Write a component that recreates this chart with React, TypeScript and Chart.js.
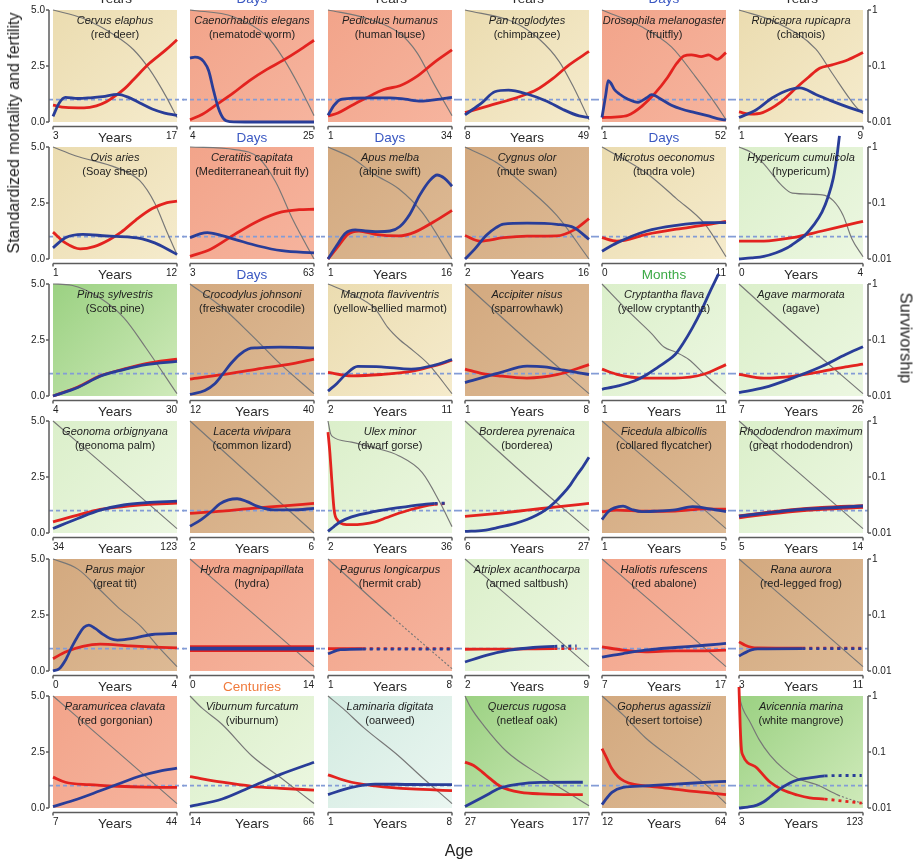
import React, { useEffect, useRef } from 'react';
import { Chart, registerables } from 'chart.js';

Chart.register(...registerables);

const FONT = '"Liberation Sans", Arial, Helvetica, sans-serif';
Chart.defaults.font.family = FONT;

// ---- species (row-major, 6 per row) ----
const speciesNames = [
  'Cervus elaphus', 'Caenorhabditis elegans', 'Pediculus humanus', 'Pan troglodytes', 'Drosophila melanogaster', 'Rupicapra rupicapra',
  'Ovis aries', 'Ceratitis capitata', 'Apus melba', 'Cygnus olor', 'Microtus oeconomus', 'Hypericum cumulicola',
  'Pinus sylvestris', 'Crocodylus johnsoni', 'Marmota flaviventris', 'Accipiter nisus', 'Cryptantha flava', 'Agave marmorata',
  'Geonoma orbignyana', 'Lacerta vivipara', 'Ulex minor', 'Borderea pyrenaica', 'Ficedula albicollis', 'Rhododendron maximum',
  'Parus major', 'Hydra magnipapillata', 'Pagurus longicarpus', 'Atriplex acanthocarpa', 'Haliotis rufescens', 'Rana aurora',
  'Paramuricea clavata', 'Viburnum furcatum', 'Laminaria digitata', 'Quercus rugosa', 'Gopherus agassizii', 'Avicennia marina',
];

const commonNames = [
  'red deer', 'nematode worm', 'human louse', 'chimpanzee', 'fruitfly', 'chamois',
  'Soay sheep', 'Mediterranean fruit fly', 'alpine swift', 'mute swan', 'tundra vole', 'hypericum',
  'Scots pine', 'freshwater crocodile', 'yellow-bellied marmot', 'sparrowhawk', 'yellow cryptantha', 'agave',
  'geonoma palm', 'common lizard', 'dwarf gorse', 'borderea', 'collared flycatcher', 'great rhododendron',
  'great tit', 'hydra', 'hermit crab', 'armed saltbush', 'red abalone', 'red-legged frog',
  'red gorgonian', 'viburnum', 'oarweed', 'netleaf oak', 'desert tortoise', 'white mangrove',
];

const panelGroups = [
  'mammal', 'invertebrate', 'invertebrate', 'mammal', 'invertebrate', 'mammal',
  'mammal', 'invertebrate', 'bird', 'bird', 'mammal', 'plant',
  'tree', 'bird', 'mammal', 'bird', 'plant', 'plant',
  'plant', 'bird', 'plant', 'plant', 'bird', 'plant',
  'bird', 'invertebrate', 'invertebrate', 'plant', 'invertebrate', 'bird',
  'invertebrate', 'plant', 'alga', 'tree', 'bird', 'tree',
];

// ---- age axes ----
const ageUnits = [
  'Years', 'Days', 'Days', 'Years', 'Days', 'Years',
  'Years', 'Days', 'Years', 'Years', 'Months', 'Years',
  'Years', 'Years', 'Years', 'Years', 'Years', 'Years',
  'Years', 'Years', 'Years', 'Years', 'Years', 'Years',
  'Years', 'Centuries', 'Years', 'Years', 'Years', 'Years',
  'Years', 'Years', 'Years', 'Years', 'Years', 'Years',
];
const ageStart = [3, 4, 1, 8, 1, 1, 1, 3, 1, 2, 0, 0, 4, 12, 2, 1, 1, 7, 34, 2, 2, 6, 1, 5, 0, 0, 1, 2, 7, 3, 7, 14, 1, 27, 12, 3];
const ageEnd = [17, 25, 34, 49, 52, 9, 12, 63, 16, 16, 11, 4, 30, 40, 11, 8, 11, 26, 123, 6, 36, 27, 5, 14, 4, 14, 8, 9, 17, 11, 44, 66, 8, 177, 64, 123];
// unit labels of the row above, only their lower edge shows at the top
const topUnits = ['Years', 'Days', 'Years', 'Years', 'Days', 'Years'];

// position along each age axis (% of range) where the curves turn dotted
const dottedFrom = [
  null, null, null, null, null, null,
  null, null, null, null, null, null,
  null, null, null, null, null, null,
  null, null, 86, null, null, null,
  null, null, 28, 72, null, 51,
  null, null, null, null, null, 69,
];
const survDottedFrom = [
  null, null, null, null, null, null,
  null, null, null, null, null, null,
  null, null, null, null, null, null,
  null, null, null, null, null, null,
  null, null, 48, 72, null, 55,
  null, null, null, null, null, 65,
];

// ---- series: [age % of range, value] ----
const mortality = [
  [[0, 0.75], [10, 0.65], [25, 0.63], [35, 0.72], [43, 0.9], [51, 1.2], [58, 1.5], [65, 1.9], [78, 2.63], [91, 3.22], [100, 3.67]],
  [[0, 0.1], [10, 0.35], [22, 0.8], [35, 1.3], [48, 1.85], [62, 2.35], [75, 2.75], [88, 3.2], [100, 3.65]],
  [[0, 0.27], [8, 0.4], [18, 0.7], [31, 1.08], [45, 1.45], [58, 1.62], [72, 2.05], [85, 2.63], [100, 3.22]],
  [[0, 0.42], [19, 0.72], [45, 1.15], [58, 1.45], [71, 1.95], [84, 2.55], [100, 3.15]],
  [[0, 0.2], [10, 0.22], [21, 0.3], [32, 0.7], [43, 1.3], [53, 2.0], [60, 2.6], [66, 2.95], [72, 3.0], [80, 2.92], [86, 3.0], [93, 2.8], [100, 3.1]],
  [[0, 0.45], [9, 0.35], [19, 0.42], [33, 0.86], [46, 1.52], [56, 2.0], [65, 2.4], [75, 2.55], [88, 2.78], [100, 3.1]],
  [[0, 1.2], [10, 0.72], [22, 0.45], [33, 0.55], [45, 0.85], [55, 1.2], [67, 1.75], [80, 2.25], [92, 2.52], [100, 2.58]],
  [[0, 0.12], [17, 0.45], [36, 1.1], [55, 1.7], [74, 2.1], [88, 2.2], [100, 2.22]],
  [[0, 0], [8, 0.55], [16, 1.1], [25, 1.25], [38, 1.1], [57, 1.03], [70, 1.2], [85, 1.65], [100, 2.17]],
  [[0, 1.05], [12, 0.8], [31, 0.95], [50, 1.02], [74, 1.03], [88, 1.3], [100, 1.8]],
  [[0, 0.95], [12, 0.8], [36, 1.1], [60, 1.33], [83, 1.52], [100, 1.68]],
  [[0, 0.8], [20, 0.8], [43, 0.95], [67, 1.25], [86, 1.5], [100, 1.68]],
  [[0, 0], [20, 0.4], [38, 0.9], [57, 1.2], [75, 1.45], [100, 1.65]],
  [[0, 0.75], [26, 0.95], [54, 1.2], [83, 1.45], [100, 1.65]],
  [[0, 1.05], [19, 0.9], [43, 0.96], [67, 1.1], [86, 1.35], [100, 1.6]],
  [[0, 1.2], [14, 1.0], [27, 0.9], [50, 0.8], [74, 0.95], [100, 1.4]],
  [[0, 1.2], [12, 0.97], [35, 0.8], [59, 0.8], [82, 0.97], [100, 1.4]],
  [[0, 0.97], [20, 0.8], [43, 0.88], [67, 1.1], [86, 1.3], [100, 1.42]],
  [[0, 0.5], [20, 0.8], [38, 1.05], [57, 1.18], [75, 1.27], [100, 1.33]],
  [[0, 0.88], [26, 0.98], [50, 1.1], [73, 1.2], [100, 1.32]],
  [[0, 4.5], [1.5, 3.6], [3, 2.4], [5, 1.0], [8, 0.55], [12, 0.4], [19, 0.37], [28, 0.4], [38, 0.5], [47, 0.68], [57, 0.88], [67, 1.05], [76, 1.18], [86, 1.28], [97, 1.32]],
  [[0, 0.74], [27, 0.88], [50, 1.02], [74, 1.17], [100, 1.32]],
  [[0, 0.95], [12, 1.02], [35, 0.97], [59, 0.98], [83, 1.08], [100, 1.06]],
  [[0, 0.72], [20, 0.86], [43, 1.0], [67, 1.1], [100, 1.18]],
  [[0, 0.55], [10, 0.85], [24, 1.1], [38, 1.2], [62, 1.12], [100, 1.03]],
  [[0, 1.0], [100, 1.0]],
  [[0, 1.0], [14, 1.0], [28, 1.0], [100, 1.0]],
  [[0, 0.97], [36, 0.98], [72, 1.0], [90, 1.0]],
  [[0, 1.08], [17, 0.93], [35, 0.86], [59, 0.9], [83, 0.9], [100, 0.93]],
  [[0, 1.3], [5, 1.15], [10, 1.06], [15, 1.03], [51, 1.02], [100, 1.02]],
  [[0, 1.38], [10, 1.15], [29, 1.04], [52, 0.97], [75, 0.93], [100, 0.92]],
  [[0, 1.4], [26, 1.15], [50, 0.97], [73, 0.88], [100, 0.8]],
  [[0, 1.48], [19, 1.15], [38, 0.99], [67, 0.85], [100, 0.78]],
  [[0, 2.05], [7, 1.9], [14, 1.6], [20, 1.32], [28, 0.98], [35, 0.82], [45, 0.7], [61, 0.63], [80, 0.6], [95, 0.6]],
  [[0, 2.65], [4, 2.2], [8, 1.75], [13, 1.4], [18, 1.2], [26, 1.05], [45, 0.93], [68, 0.78], [83, 0.7], [100, 0.6]],
  [[0, 5.4], [1, 3.6], [2, 2.6], [3, 2.37], [14.5, 1.79], [25, 1.16], [35.5, 0.8], [47, 0.58], [57, 0.45], [69, 0.4], [84, 0.31], [99, 0.22]],
];

const fertility = [
  [[0, 0.25], [5, 0.85], [10, 1.1], [20, 1.05], [30, 1.08], [40, 1.13], [52, 1.23], [60, 1.12], [70, 0.85], [80, 0.58], [90, 0.4], [100, 0.3]],
  [[0, 2.85], [4, 2.9], [8, 2.85], [11, 2.7], [15, 2.3], [19, 1.4], [23, 0.6], [27, 0.15], [32, 0.02], [50, 0], [75, 0], [100, 0]],
  [[0, 0.3], [5, 0.75], [10, 1.0], [20, 1.06], [35, 1.08], [50, 1.08], [62, 1.02], [75, 0.93], [87, 1.0], [100, 1.1]],
  [[0, 0.32], [14, 0.88], [24, 1.35], [35, 1.42], [50, 1.25], [66, 0.93], [79, 0.56], [92, 0.27], [100, 0.2]],
  [[0, 0.2], [3, 1.2], [5, 1.85], [7, 1.75], [10, 1.45], [14, 1.25], [21, 1.02], [29, 0.88], [36, 1.08], [40, 1.22], [48, 1.0], [56, 0.75], [64, 0.58], [75, 0.42], [85, 0.28], [96, 0.12], [100, 0.09]],
  [[0, 0.2], [14, 0.55], [27, 1.08], [41, 1.45], [49, 1.52], [62, 1.23], [75, 0.93], [89, 0.64], [100, 0.44]],
  [[0, 0.5], [10, 0.95], [24, 1.1], [43, 1.03], [62, 0.98], [72, 0.9], [82, 0.72], [92, 0.45], [100, 0.2]],
  [[0, 0.95], [8, 1.12], [14, 1.18], [25, 1.05], [36, 0.88], [55, 0.58], [74, 0.37], [100, 0.27]],
  [[0, 0], [7, 0.6], [14, 1.15], [22, 1.3], [30, 1.25], [40, 1.22], [50, 1.25], [58, 1.45], [66, 2.0], [74, 2.85], [82, 3.5], [88, 3.75], [94, 3.6], [100, 3.25]],
  [[0, 0], [8, 0.45], [17, 1.05], [25, 1.4], [31, 1.56], [50, 1.6], [74, 1.55], [88, 1.4], [100, 0.88]],
  [[0, 0.35], [12, 0.72], [36, 1.25], [60, 1.5], [83, 1.62], [100, 1.62]],
  [[0, 0], [10, 0.05], [20, 0.12], [30, 0.28], [39, 0.5], [47, 0.8], [53, 1.05], [60, 1.5], [67, 2.1], [72, 2.8], [76, 3.6], [79, 4.6], [81, 5.5]],
  [[0, 0], [20, 0.38], [38, 0.88], [57, 1.18], [75, 1.4], [100, 1.55]],
  [[0, 0.07], [12, 0.25], [20, 0.55], [26, 0.95], [33, 1.45], [40, 1.85], [47, 2.1], [54, 2.15], [73, 2.18], [100, 2.15]],
  [[0, 0.22], [7, 0.55], [14, 0.95], [24, 1.32], [43, 1.3], [67, 1.2], [86, 1.38], [100, 1.63]],
  [[0, 0.6], [27, 1.02], [50, 1.33], [64, 1.3], [80, 1.15], [100, 0.96]],
  [[0, 0.3], [13, 0.45], [26, 0.67], [36, 0.95], [45, 1.28], [52, 1.55], [59, 1.85], [66, 2.4], [73, 3.05], [80, 3.8], [87, 4.65], [94, 5.45]],
  [[0, 0.15], [20, 0.37], [43, 0.8], [67, 1.33], [86, 1.85], [100, 2.2]],
  [[0, 0.2], [20, 0.65], [38, 1.02], [57, 1.25], [75, 1.35], [100, 1.42]],
  [[0, 0.3], [9, 0.6], [17, 0.95], [24, 1.3], [31, 1.48], [38, 1.53], [46, 1.4], [54, 1.2], [68, 1.03], [83, 1.03], [100, 1.1]],
  [[0, 0.07], [5, 0.3], [10, 0.5], [19, 0.72], [38, 0.96], [57, 1.13], [76, 1.27], [86, 1.32], [97, 1.33]],
  [[0, 0.07], [15, 0.12], [27, 0.25], [40, 0.42], [50, 0.6], [58, 0.8], [65, 1.03], [72, 1.35], [79, 1.75], [85, 2.15], [90, 2.57], [95, 2.95], [100, 3.38]],
  [[0, 0.6], [5, 0.95], [10, 1.12], [17, 1.2], [24, 1.05], [32, 0.95], [45, 0.98], [59, 1.03], [73, 1.18], [87, 1.08], [100, 0.96]],
  [[0, 0.75], [20, 0.88], [43, 1.02], [67, 1.1], [100, 1.2]],
  [[0, 0], [5, 0.1], [10, 0.48], [15, 1.05], [20, 1.55], [25, 1.95], [29, 2.05], [34, 1.9], [40, 1.65], [46, 1.45], [52, 1.38], [60, 1.42], [70, 1.52], [80, 1.63], [100, 1.68]],
  [[0, 1.0], [100, 1.0]],
  [[0, 0.77], [10, 0.95], [28, 0.98], [100, 0.98]],
  [[0, 0.4], [17, 0.7], [36, 0.93], [55, 1.05], [72, 1.1], [90, 1.12]],
  [[0, 0.62], [17, 0.78], [35, 0.93], [59, 1.05], [83, 1.15], [100, 1.23]],
  [[0, 0.67], [5, 0.82], [10, 0.94], [15, 0.99], [51, 1.0], [100, 1.0]],
  [[0, 0.06], [20, 0.4], [38, 0.77], [52, 1.06], [71, 1.44], [86, 1.65], [100, 1.78]],
  [[0, 0.07], [26, 0.4], [50, 0.96], [73, 1.5], [100, 2.04]],
  [[0, 0.6], [19, 0.92], [38, 1.07], [67, 1.05], [100, 1.04]],
  [[0, 0.07], [15, 0.5], [28, 0.88], [42, 1.05], [61, 1.14], [95, 1.15]],
  [[0, 0.15], [4, 0.45], [8, 0.7], [17, 0.92], [35, 0.99], [59, 1.07], [83, 1.14], [100, 1.19]],
  [[0, 0], [7, 0.04], [14.5, 0.13], [20, 0.28], [25, 0.49], [30, 0.72], [35.5, 0.94], [41, 1.12], [47, 1.25], [57, 1.34], [69, 1.43], [85, 1.45], [99, 1.45]],
];

const survivorship = [
  [[0, 1], [24, 0.71], [51, 0.34], [65, 0.195], [78, 0.086], [91, 0.029], [100, 0.012]],
  [[0, 1], [35, 0.76], [62, 0.34], [75, 0.14], [88, 0.044], [100, 0.013]],
  [[0, 1], [31, 0.71], [58, 0.38], [72, 0.17], [85, 0.05], [100, 0.013]],
  [[0, 1], [40, 0.6], [60, 0.3], [76, 0.12], [88, 0.04], [100, 0.011]],
  [[0, 1], [32, 0.5], [56, 0.22], [75, 0.066], [91, 0.022], [100, 0.011]],
  [[0, 1], [30, 0.6], [62, 0.2], [75, 0.075], [94, 0.019], [100, 0.014]],
  [[0, 1], [18, 0.7], [52, 0.42], [70, 0.25], [82, 0.1], [92, 0.03], [100, 0.012]],
  [[0, 1], [36, 0.9], [55, 0.65], [69, 0.24], [83, 0.05], [100, 0.01]],
  [[0, 1], [19, 0.64], [38, 0.32], [57, 0.18], [76, 0.068], [100, 0.01]],
  [[0, 1], [26, 0.52], [50, 0.19], [74, 0.06], [100, 0.01]],
  [[0, 1], [36, 0.34], [60, 0.12], [83, 0.042], [100, 0.011]],
  [[0, 1], [10, 0.8], [20, 0.5], [34, 0.21], [43, 0.15], [67, 0.14], [76, 0.11], [84, 0.06], [91, 0.023], [100, 0.011]],
  [[0, 1], [15, 0.95], [38, 0.56], [57, 0.25], [75, 0.072], [100, 0.011]],
  [[0, 1], [26, 0.38], [50, 0.12], [73, 0.037], [100, 0.011]],
  [[0, 1], [19, 0.66], [38, 0.36], [48, 0.17], [58, 0.1], [65, 0.075], [81, 0.037], [100, 0.011]],
  [[0, 1], [50, 0.1], [100, 0.011]],
  [[0, 1], [21, 0.33], [40, 0.13], [50, 0.075], [60, 0.06], [70, 0.045], [83, 0.024], [100, 0.011]],
  [[0, 1], [50, 0.1], [100, 0.011]],
  [[0, 1], [50, 0.11], [100, 0.012]],
  [[0, 1], [50, 0.1], [100, 0.01]],
  [[0, 1], [2, 0.6], [4, 0.52], [19, 0.42], [38, 0.33], [57, 0.24], [76, 0.12], [90, 0.036], [100, 0.013]],
  [[0, 1], [50, 0.1], [100, 0.011]],
  [[0, 1], [50, 0.11], [100, 0.012]],
  [[0, 1], [50, 0.11], [100, 0.012]],
  [[0, 1], [20, 0.66], [38, 0.28], [52, 0.14], [71, 0.062], [85, 0.027], [100, 0.012]],
  [[0, 1], [50, 0.11], [100, 0.012]],
  [[0, 1], [50, 0.1], [100, 0.011]],
  [[0, 1], [50, 0.11], [100, 0.012]],
  [[0, 1], [50, 0.11], [100, 0.012]],
  [[0, 1], [50, 0.11], [100, 0.012]],
  [[0, 1], [50, 0.11], [100, 0.012]],
  [[0, 1], [10, 0.6], [26, 0.31], [50, 0.085], [73, 0.035], [100, 0.012]],
  [[0, 1], [12, 0.6], [29, 0.27], [57, 0.085], [76, 0.035], [100, 0.012]],
  [[0, 1], [4, 0.66], [15, 0.3], [34, 0.1], [61, 0.038], [88, 0.016], [100, 0.011]],
  [[0, 1], [17, 0.46], [35, 0.18], [59, 0.07], [83, 0.027], [100, 0.012]],
  [[0, 1], [3, 0.6], [9, 0.34], [16, 0.17], [25, 0.088], [36, 0.05], [47, 0.034], [63, 0.026], [80, 0.017], [100, 0.012]],
];

const rateTicks = [0, 2.5, 5];
const survTicks = [0.01, 0.1, 1];

// ---- look ----
const RED = '#e3231f';
const BLUE = '#293d98';
const GREY = '#777777';
const REF_LINE = '#839cd6';
const AXIS = '#5c5c5c';
const LINE_W = 2.8;
// panels whose two rate curves lie on top of each other as a thick band: [mortality, fertility] widths
const BAND_WIDTHS: Record<number, [number, number]> = { 23: [4.6, 3], 25: [6.6, 3.8] };
const GROUP_FILL: Record<string, [string, string]> = {
  mammal: ['#ebdcb0', '#f5ebcc'],
  invertebrate: ['#f2a48a', '#f6b49e'],
  bird: ['#d3a97f', '#ddba95'],
  plant: ['#dbefca', '#ecf7e1'],
  tree: ['#9bd182', '#cfeaba'],
  alga: ['#d3ebe1', '#eaf6f1'],
};
const UNIT_COLOR: Record<string, string> = {
  Years: '#2a2a2a',
  Days: '#3a58c2',
  Months: '#3caa46',
  Centuries: '#f07a3c',
};

// ---- grid geometry ----
const COL_LEFT = [53, 190, 328, 465, 602, 739];
const ROW_TOP = [10, 147, 284, 421, 559, 696];
const PW = 124;
const PH = 112;
const ML = 50;
const MR = 50;
const MT = 16;
const MB = 28;

function Panel({ i }: { i: number }) {
  const ref = useRef<HTMLCanvasElement | null>(null);
  const row = Math.floor(i / 6);
  const col = i % 6;

  useEffect(() => {
    if (!ref.current) return;
    const a = ageStart[i];
    const b = ageEnd[i];
    const toAge = (t: number) => a + ((b - a) * t) / 100;
    const toPoints = (s: number[][]) => s.map(([t, v]) => ({ x: toAge(t), y: v }));
    const curveLimit = dottedFrom[i] == null ? null : toAge(dottedFrom[i] as number);
    const survLimit = survDottedFrom[i] == null ? null : toAge(survDottedFrom[i] as number);
    const dashAfter = (limit: number | null, dash: number[]) => ({
      borderDash: (ctx: any) => (limit != null && ctx.p0.parsed.x >= limit - 1e-9 ? dash : undefined),
    });
    const [fill0, fill1] = GROUP_FILL[panelGroups[i]];
    const [redW, blueW] = BAND_WIDTHS[i] || [LINE_W, LINE_W];

    const panelDecor = {
      id: 'panelDecor',
      beforeDatasetsDraw(chart: any) {
        const { ctx, chartArea: ca, scales } = chart;
        ctx.save();
        const g = ctx.createLinearGradient(ca.left, ca.top, ca.right, ca.bottom);
        g.addColorStop(0, fill0);
        g.addColorStop(1, fill1);
        ctx.fillStyle = g;
        ctx.fillRect(ca.left, ca.top, ca.right - ca.left, ca.bottom - ca.top);

        // reference level (value 1), running across the gaps between panels
        const y1 = scales.y.getPixelForValue(1);
        ctx.strokeStyle = REF_LINE;
        ctx.lineWidth = 1.6;
        ctx.setLineDash([4, 3]);
        ctx.beginPath();
        ctx.moveTo(ca.left - (col === 0 ? 4 : 7), y1);
        ctx.lineTo(ca.right + (col === 5 ? 5 : 7), y1);
        ctx.stroke();
        ctx.setLineDash([]);

        // offset axis lines
        ctx.strokeStyle = AXIS;
        ctx.lineWidth = 1.5;
        ctx.beginPath();
        const yb = ca.bottom + 4.5;
        ctx.moveTo(ca.left, yb);
        ctx.lineTo(ca.right, yb);
        for (const v of [a, b]) {
          const px = scales.x.getPixelForValue(v);
          ctx.moveTo(px, yb);
          ctx.lineTo(px, yb + 3);
        }
        if (col === 0) {
          const xl = ca.left - 4;
          ctx.moveTo(xl, ca.top);
          ctx.lineTo(xl, ca.bottom);
          for (const v of rateTicks) {
            const py = scales.y.getPixelForValue(v);
            ctx.moveTo(xl, py);
            ctx.lineTo(xl - 3, py);
          }
        }
        if (col === 5) {
          const xr = ca.right + 5;
          ctx.moveTo(xr, ca.top);
          ctx.lineTo(xr, ca.bottom);
          for (const v of survTicks) {
            const py = scales.y2.getPixelForValue(v);
            ctx.moveTo(xr, py);
            ctx.lineTo(xr + 3, py);
          }
        }
        ctx.stroke();
        ctx.restore();
      },
    };

    const common = {
      pointRadius: 0,
      fill: false,
      cubicInterpolationMode: 'monotone' as const,
      clip: false as const,
    };

    const chart = new Chart(ref.current, {
      type: 'line',
      data: {
        datasets: [
          {
            ...common,
            label: 'Fertility',
            data: toPoints(fertility[i]),
            borderColor: BLUE,
            borderWidth: blueW,
            yAxisID: 'y',
            order: 0,
            segment: dashAfter(curveLimit, [3, 4]),
          },
          {
            ...common,
            label: 'Mortality',
            data: toPoints(mortality[i]),
            borderColor: RED,
            borderWidth: redW,
            yAxisID: 'y',
            order: 1,
            segment: dashAfter(curveLimit, [3, 4]),
          },
          {
            ...common,
            label: 'Survivorship',
            data: toPoints(survivorship[i]),
            borderColor: GREY,
            borderWidth: 1.15,
            yAxisID: 'y2',
            order: 2,
            segment: dashAfter(survLimit, [2, 2]),
          },
        ],
      },
      options: {
        responsive: false,
        animation: false,
        devicePixelRatio: 1,
        events: [],
        layout: { padding: { top: MT, left: 0, right: 0, bottom: 0 } },
        plugins: { legend: { display: false }, tooltip: { enabled: false }, title: { display: false } },
        scales: {
          x: {
            type: 'linear',
            min: a,
            max: b,
            afterBuildTicks: (s: any) => {
              s.ticks = [{ value: a }, { value: b }];
            },
            afterFit: (s: any) => {
              s.height = MB;
            },
            grid: { display: false, drawTicks: false },
            border: { display: false },
            ticks: {
              autoSkip: false,
              maxRotation: 0,
              align: 'inner',
              padding: 8,
              color: '#222',
              font: { size: 10, family: FONT },
              callback: (v: any) => String(v),
            },
          },
          y: {
            type: 'linear',
            position: 'left',
            min: 0,
            max: 5,
            afterBuildTicks: (s: any) => {
              s.ticks = rateTicks.map((v) => ({ value: v }));
            },
            afterFit: (s: any) => {
              s.width = ML;
            },
            grid: { display: false, drawTicks: false },
            border: { display: false },
            ticks: {
              display: col === 0,
              padding: 8,
              color: '#222',
              font: { size: 10, family: FONT },
              callback: (v: any) => Number(v).toFixed(1),
            },
          },
          y2: {
            type: 'logarithmic',
            position: 'right',
            min: 0.01,
            max: 1,
            afterBuildTicks: (s: any) => {
              s.ticks = survTicks.map((v) => ({ value: v }));
            },
            afterFit: (s: any) => {
              s.width = MR;
            },
            grid: { display: false, drawTicks: false },
            border: { display: false },
            ticks: {
              display: col === 5,
              padding: 9,
              color: '#222',
              font: { size: 10, family: FONT },
              callback: (v: any) => String(v),
            },
          },
        },
      },
      plugins: [panelDecor],
    } as any);
    return () => chart.destroy();
  }, [i, col]);

  const w = ML + PW + MR;
  const h = MT + PH + MB;
  return (
    <canvas
      ref={ref}
      width={w}
      height={h}
      style={{ position: 'absolute', left: COL_LEFT[col] - ML, top: ROW_TOP[row] - MT, width: w, height: h }}
    />
  );
}

export default function App() {
  return (
    <div
      style={{
        position: 'fixed',
        left: 0,
        top: 0,
        width: 920,
        height: 861,
        overflow: 'hidden',
        background: '#ffffff',
        fontFamily: FONT,
        color: '#1e1e1e',
      }}
    >
      {speciesNames.map((_, i) => (
        <Panel key={`p${i}`} i={i} />
      ))}

      {speciesNames.map((name, i) => {
        const row = Math.floor(i / 6);
        const col = i % 6;
        return (
          <div
            key={`n${i}`}
            style={{
              position: 'absolute',
              left: COL_LEFT[col] - 12,
              top: ROW_TOP[row] + 3,
              width: PW + 24,
              textAlign: 'center',
              fontSize: 11,
              lineHeight: '14px',
              whiteSpace: 'nowrap',
            }}
          >
            <div style={{ fontStyle: 'italic' }}>{name}</div>
            <div>({commonNames[i]})</div>
          </div>
        );
      })}

      {ageUnits.map((unit, i) => {
        const row = Math.floor(i / 6);
        const col = i % 6;
        return (
          <div
            key={`u${i}`}
            style={{
              position: 'absolute',
              left: COL_LEFT[col] - 10,
              top: ROW_TOP[row] + PH + 7.5,
              width: PW + 20,
              textAlign: 'center',
              fontSize: 13.5,
              lineHeight: '15px',
              color: UNIT_COLOR[unit],
            }}
          >
            {unit}
          </div>
        );
      })}

      {topUnits.map((unit, col) => (
        <div
          key={`t${col}`}
          style={{
            position: 'absolute',
            left: COL_LEFT[col] - 10,
            top: -9,
            width: PW + 20,
            textAlign: 'center',
            fontSize: 13.5,
            lineHeight: '15px',
            color: UNIT_COLOR[unit],
          }}
        >
          {unit}
        </div>
      ))}

      <div
        style={{
          position: 'absolute',
          left: 14,
          top: 133,
          transform: 'translate(-50%, -50%) rotate(-90deg)',
          fontSize: 16,
          whiteSpace: 'nowrap',
          color: '#222',
        }}
      >
        Standardized mortality and fertility
      </div>
      <div
        style={{
          position: 'absolute',
          left: 906,
          top: 338,
          transform: 'translate(-50%, -50%) rotate(90deg)',
          fontSize: 16.5,
          whiteSpace: 'nowrap',
          color: '#222',
        }}
      >
        Survivorship
      </div>
      <div
        style={{
          position: 'absolute',
          left: 459,
          top: 851,
          transform: 'translate(-50%, -50%)',
          fontSize: 16,
          whiteSpace: 'nowrap',
          color: '#222',
        }}
      >
        Age
      </div>
    </div>
  );
}
